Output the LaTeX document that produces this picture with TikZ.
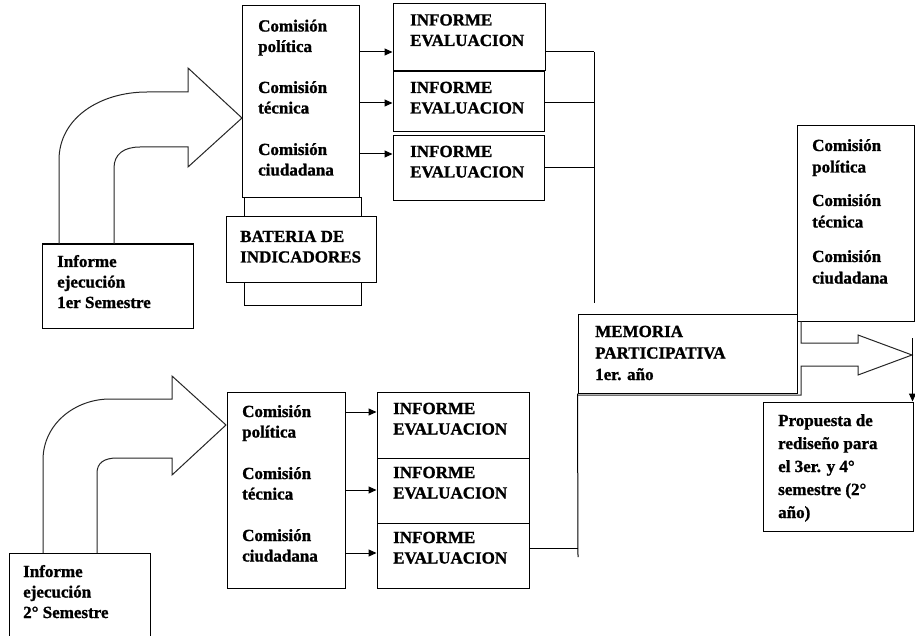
\documentclass[tikz,border=0pt]{standalone}
\usepackage{fontspec}
\setmainfont{Liberation Serif}[BoldFeatures={FakeBold=1.2}]
\usetikzlibrary{arrows.meta,fit}
\begin{document}
\begin{tikzpicture}[x=1bp,y=-1bp,
  box/.style={draw,line width=1bp,inner sep=0pt},
  wbox/.style={box,fill=white},
  txt/.style={anchor=base west,inner sep=0pt,align=left,font=\bfseries\fontsize{17bp}{20.5bp}\selectfont},
  wide/.style={font=\bfseries\fontsize{17bp}{21.5bp}\selectfont},
  wider/.style={font=\bfseries\fontsize{17bp}{23bp}\selectfont},
  conn/.style={line width=1bp},
  arr/.style={line width=1bp,-{Triangle[length=8bp,width=7bp]}},
  bigarrow/.style={line width=1bp,draw=black!85,line join=miter}]
\useasboundingbox[fill=white] (0,0) rectangle (915,636);

% ---------- upper part ----------
\node[box,fit={(42,244)(193,328)}] (inf1) {};
\node[box,fit={(242,6)(359,198)}] (com1) {};
\node[box,fit={(244,198)(361,305)}] (batb) {};
\node[wbox,fit={(226,217)(376,282)}] (bat) {};
\node[box,fit={(393,4)(545,71)}] (ev1) {};
\node[box,fit={(393,72)(544,132)}] (ev2) {};
\node[box,fit={(393,136)(544,201)}] (ev3) {};

% (anchor = baseline of the last line)
\node[txt] (tinf1) at (57,308) {Informe\\ejecución\\1er Semestre};
\node[txt] (tc1a) at (258,52) {Comisión\\política};
\node[txt] (tc1b) at (258,113.5) {Comisión\\técnica};
\node[txt] (tc1c) at (258,175.5) {Comisión\\ciudadana};
\node[txt] (tev1) at (410,46) {INFORME\\EVALUACION};
\node[txt] (tev2) at (410,113.5) {INFORME\\EVALUACION};
\node[txt] (tev3) at (410,177.5) {INFORME\\EVALUACION};
\node[txt] (tbat) at (240,262.5) {BATERIA DE\\INDICADORES};

% big curved arrow (upper)
\draw[bigarrow] (59,244) -- (59,160) .. controls (59,118) and (100,92) .. (147,92)
  -- (188,92) -- (188,68) -- (242,118) -- (188,167) -- (188,147) -- (140,147)
  .. controls (124,147) and (114,154) .. (114,168) -- (114,244);

% arrows commission -> reports
\coordinate (r1) at (0,52);
\coordinate (r2) at (0,103);
\coordinate (r3) at (0,154);
\coordinate (r4) at (0,168);
\draw[arr] (com1.east |- r1) -- (ev1.west |- r1);
\draw[arr] (com1.east |- r2) -- (ev2.west |- r2);
\draw[arr] (com1.east |- r3) -- (ev3.west |- r3);

% collector line
\coordinate (vtop) at (594,52);
\coordinate (vbot) at (594,303);
\draw[conn] (vtop) -- (vbot);
\draw[conn] (ev1.east |- r1) -- (vtop);
\draw[conn] (ev2.east |- r2) -- (vtop |- r2);
\draw[conn] (ev3.east |- r4) -- (vtop |- r4);

% ---------- right part ----------
\node[box,fit={(578,314)(797,393)}] (mem) {};
\node[box,fit={(797,126)(914,321)}] (com3) {};
\node[box,fit={(763,402)(913,531)}] (prop) {};

\node[txt,wide] (tmem) at (595,380) {MEMORIA\\PARTICIPATIVA\\1er. año};
\node[txt,wide] (tc3a) at (812,172.5) {Comisión\\política};
\node[txt,wide] (tc3b) at (812,227.5) {Comisión\\técnica};
\node[txt,wide] (tc3c) at (812,283.5) {Comisión\\ciudadana};
\node[txt,wider] (tprop) at (778,518) {Propuesta de\\rediseño para\\el  3er. y 4°\\semestre (2°\\año)};

\draw[bigarrow] (801,321) -- (801,343) -- (858,343) -- (858,335) -- (912,355)
  -- (858,375) -- (858,366) -- (801,366) -- (801,395) -- (578,395);

\coordinate (dstart) at (912.5,338);
\draw[arr] (dstart) -- (dstart |- prop.north);

% ---------- lower part ----------
\node[box,fit={(9,553)(150,645)}] (inf2) {};
\node[box,fit={(227,392)(345,588)}] (com2) {};
\node[box,fit={(377,392)(529,458)}] (ev4) {};
\node[box,fit={(377,458)(529,523)}] (ev5) {};
\node[box,fit={(377,523)(529,588)}] (ev6) {};

\node[txt] (tinf2) at (23,618) {Informe\\ejecución\\2° Semestre};
\node[txt] (tc2a) at (242,437.5) {Comisión\\política};
\node[txt] (tc2b) at (242,499.5) {Comisión\\técnica};
\node[txt] (tc2c) at (242,561.5) {Comisión\\ciudadana};
\node[txt] (tev4) at (393,434.5) {INFORME\\EVALUACION};
\node[txt] (tev5) at (393,498.5) {INFORME\\EVALUACION};
\node[txt] (tev6) at (393,563.5) {INFORME\\EVALUACION};

% big curved arrow (lower)
\draw[bigarrow] (43,553) -- (43,460) .. controls (43,424) and (75,399) .. (110,399)
  -- (172,399) -- (172,376) -- (226,425) -- (172,475) -- (172,458) -- (117,458)
  .. controls (104,458) and (97,463) .. (97,473) -- (97,553);

\coordinate (b1) at (0,412);
\coordinate (b2) at (0,490);
\coordinate (b3) at (0,553);
\coordinate (b4) at (0,548);
\draw[arr] (com2.east |- b1) -- (ev4.west |- b1);
\draw[arr] (com2.east |- b2) -- (ev5.west |- b2);
\draw[arr] (com2.east |- b3) -- (ev6.west |- b3);

\coordinate (lbot) at (578,557);
\draw[conn] (ev6.east |- b4) -- (lbot |- b4);
\draw[conn] (mem.south west) -- (lbot);
\end{tikzpicture}
\end{document}
